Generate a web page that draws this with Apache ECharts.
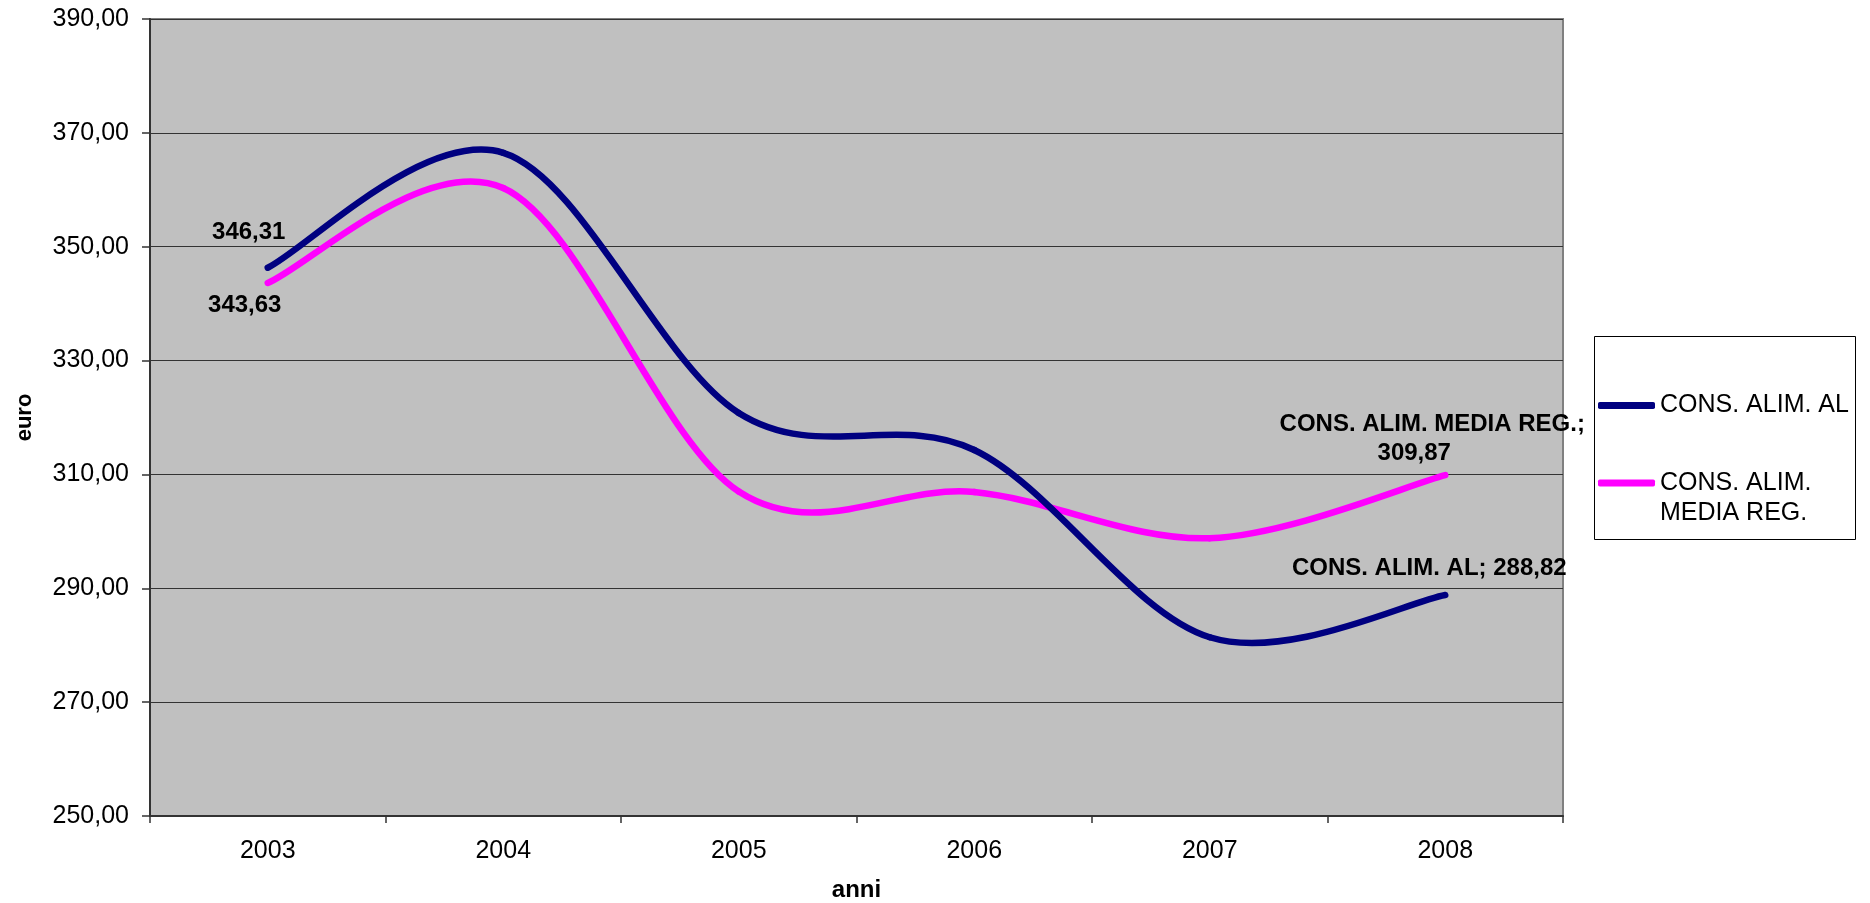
<!DOCTYPE html>
<html>
<head>
<meta charset="utf-8">
<script src="https://cdn.jsdelivr.net/npm/echarts@6/dist/echarts.min.js"></script>
<style>
html,body{margin:0;padding:0;background:#fff;}
#chart{width:1870px;height:903px;}
</style>
</head>
<body>
<div id="chart"></div>
<script>
// ---- data ----
const years = ['2003', '2004', '2005', '2006', '2007', '2008'];
const seriesNames = ['CONS. ALIM. AL', 'CONS. ALIM. MEDIA REG.'];
const consAlimAL = [346.31, 366.5, 320.8, 314.3, 281.4, 288.82];
const consAlimMediaReg = [343.63, 360.3, 307.0, 306.9, 298.8, 309.87];
const yTicks = [250, 270, 290, 310, 330, 350, 370, 390];

const FONT = '"Liberation Sans", Arial, sans-serif';
const fmt = v => Number(v).toFixed(2).replace('.', ',');

const labelFont = { fill: '#000', fontFamily: FONT, fontWeight: 'bold', fontSize: 24 };

// Smoothed line (Excel-style Catmull-Rom) drawn through the cartesian axes
function smoothSeries(name, values, color, z, firstOffset, lastOffset, lastText) {
  return {
    type: 'custom',
    name: name,
    coordinateSystem: 'cartesian2d',
    color: color,
    itemStyle: { color: color },
    z: z,
    encode: { x: 0, y: 1 },
    data: values.map((v, i) => [years[i], v]),
    renderItem: function (params, api) {
      const i = params.dataIndexInside;
      const n = params.dataInsideLength;
      const pt = k => api.coord([api.value(0, k), api.value(1, k)]);
      const children = [];
      if (i < n - 1) {
        const p0 = pt(Math.max(i - 1, 0));
        const p1 = pt(i);
        const p2 = pt(i + 1);
        const p3 = pt(Math.min(i + 2, n - 1));
        children.push({
          type: 'bezierCurve',
          shape: {
            x1: p1[0], y1: p1[1],
            cpx1: p1[0] + (p2[0] - p0[0]) / 6,
            cpy1: p1[1] + (p2[1] - p0[1]) / 6,
            cpx2: p2[0] - (p3[0] - p1[0]) / 6,
            cpy2: p2[1] - (p3[1] - p1[1]) / 6,
            x2: p2[0], y2: p2[1]
          },
          style: { stroke: color, lineWidth: 6.5, fill: null, lineCap: 'round', lineJoin: 'round' }
        });
      }
      let txt = null, off = null;
      if (i === 0) { txt = fmt(api.value(1, i)); off = firstOffset; }
      if (i === n - 1) { txt = lastText(api.value(1, i)); off = lastOffset; }
      if (txt !== null) {
        const p = pt(i);
        children.push({
          type: 'text',
          z2: 10,
          x: p[0] + off[0],
          y: p[1] + off[1],
          style: Object.assign({
            text: txt,
            lineHeight: 29,
            align: 'center',
            verticalAlign: 'middle',
            rich: {
              v: Object.assign({ padding: [0, 36, 0, 0], lineHeight: 29 }, labelFont)
            }
          }, labelFont)
        });
      }
      return { type: 'group', children: children };
    }
  };
}

const chart = echarts.init(document.getElementById('chart'), null, { renderer: 'canvas' });

const option = {
  backgroundColor: '#ffffff',
  animation: false,
  grid: {
    left: 150, right: 307, top: 19, bottom: 87,
    show: true,
    backgroundColor: '#C0C0C0',
    borderColor: '#808080',
    borderWidth: 2,
    containLabel: false,
    outerBoundsMode: 'none'
  },
  xAxis: {
    type: 'category',
    data: years,
    boundaryGap: true,
    name: 'anni',
    nameLocation: 'middle',
    nameGap: 62,
    nameTextStyle: { fontFamily: FONT, fontWeight: 'bold', fontSize: 24, color: '#000' },
    axisLine: { show: true, lineStyle: { color: '#333', width: 2 } },
    axisTick: { show: true, inside: false, length: 7, lineStyle: { color: '#333', width: 1.5 } },
    axisLabel: { margin: 23, fontFamily: FONT, fontSize: 25, color: '#000' },
    splitLine: { show: false }
  },
  yAxis: {
    type: 'value',
    min: yTicks[0],
    max: yTicks[yTicks.length - 1],
    interval: yTicks[1] - yTicks[0],
    name: 'euro',
    nameLocation: 'middle',
    nameGap: 114,
    nameTextStyle: { fontFamily: FONT, fontWeight: 'bold', fontSize: 22, color: '#000' },
    axisLine: { show: true, lineStyle: { color: '#333', width: 2 } },
    axisTick: { show: true, inside: false, length: 8, lineStyle: { color: '#333', width: 1.5 } },
    axisLabel: { margin: 21, fontFamily: FONT, fontSize: 25, color: '#000', formatter: v => fmt(v) },
    splitLine: { show: true, lineStyle: { color: '#333', width: 1.2 } }
  },
  legend: [
    {
      data: [{ name: seriesNames[0], icon: 'roundRect' }],
      orient: 'vertical',
      left: 1598,
      top: 393,
      padding: 0,
      itemWidth: 57,
      itemHeight: 7,
      itemGap: 0,
      textStyle: { fontFamily: FONT, fontSize: 25, color: '#000' }
    },
    {
      data: [{ name: seriesNames[1], icon: 'roundRect' }],
      orient: 'vertical',
      left: 1598,
      top: 438,
      padding: 0,
      itemWidth: 57,
      itemHeight: 7,
      itemGap: 0,
      formatter: () => ' \nCONS. ALIM.\nMEDIA REG.',
      textStyle: { fontFamily: FONT, fontSize: 25, color: '#000', lineHeight: 30 }
    }
  ],
  graphic: [
    {
      type: 'rect',
      z: -1,
      silent: true,
      shape: { x: 1594.5, y: 336.5, width: 261, height: 203 },
      style: { fill: '#fff', stroke: '#000', lineWidth: 1 }
    }
  ],
  series: [
    smoothSeries(seriesNames[0], consAlimAL, '#000080', 3, [-19, -35], [-16, -27],
      v => seriesNames[0] + '; ' + fmt(v)),
    smoothSeries(seriesNames[1], consAlimMediaReg, '#FF00FF', 2, [-23, 22], [-13, -36],
      v => seriesNames[1] + ';\n{v|' + fmt(v) + '}')
  ]
};

chart.setOption(option);
</script>
</body>
</html>
